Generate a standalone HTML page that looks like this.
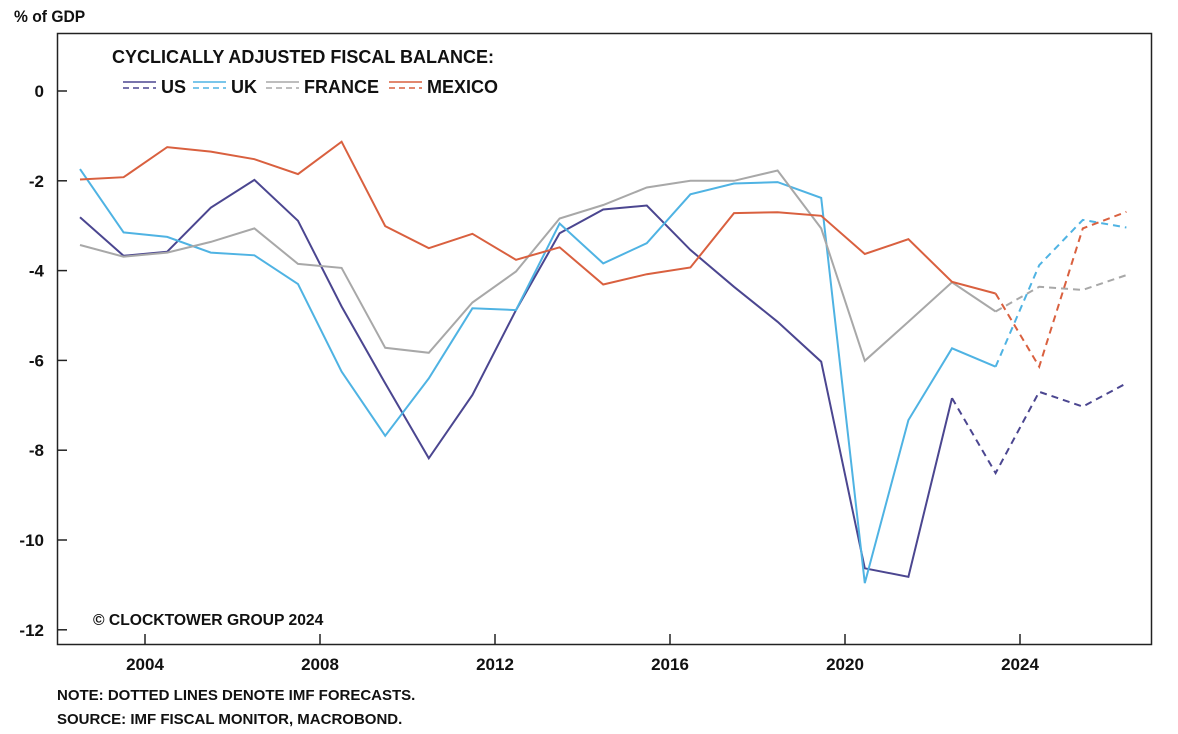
<!DOCTYPE html>
<html><head><meta charset="utf-8"><style>
html,body{margin:0;padding:0;background:#fff;}
svg{display:block;font-family:"Liberation Sans",sans-serif;font-weight:bold;}
</style></head><body>
<svg id="chart" width="1178" height="734" viewBox="0 0 1178 734">
<text x="14" y="22" font-size="17" fill="#111" transform="translate(14 0) scale(0.92 1) translate(-14 0)">% of GDP</text>
<rect x="57.5" y="33.5" width="1094" height="611" fill="none" stroke="#222" stroke-width="1.5"/>
<g id="yaxis"></g>
<g id="xaxis"></g>
<g id="series"></g>
<g>
<text x="112" y="63" font-size="18" fill="#111">CYCLICALLY ADJUSTED FISCAL BALANCE:</text>
<g id="legend-items"></g>
</g>
<text x="93" y="625" font-size="16" fill="#111" transform="translate(93 0) scale(0.98 1) translate(-93 0)">© CLOCKTOWER GROUP 2024</text>
<text x="57" y="700" font-size="15" fill="#111">NOTE: DOTTED LINES DENOTE IMF FORECASTS.</text>
<text x="57" y="724" font-size="15" fill="#111">SOURCE:  IMF FISCAL MONITOR, MACROBOND.</text>
</svg>
<script>
const yTicks = [0, -2, -4, -6, -8, -10, -12];
const xTickYears = [2004, 2008, 2012, 2016, 2020, 2024];
const seriesNames = ["US", "UK", "FRANCE", "MEXICO"];
const seriesColors = ["#4b4690", "#4fb3e3", "#a8a8a8", "#d9603f"];
const usValues = [-2.81,-3.67,-3.58,-2.60,-1.98,-2.89,-4.80,-6.51,-8.18,-6.77,-4.88,-3.17,-2.64,-2.55,-3.54,-4.36,-5.14,-6.03,-10.63,-10.82,-6.84,-8.51,-6.70,-7.03,-6.51];
const ukValues = [-1.74,-3.15,-3.25,-3.60,-3.66,-4.30,-6.25,-7.68,-6.40,-4.84,-4.88,-2.95,-3.84,-3.39,-2.30,-2.06,-2.03,-2.38,-10.96,-7.33,-5.73,-6.14,-3.88,-2.87,-3.04];
const franceValues = [-3.43,-3.69,-3.60,-3.36,-3.06,-3.85,-3.94,-5.72,-5.83,-4.71,-4.02,-2.84,-2.54,-2.15,-2.00,-2.00,-1.77,-3.06,-6.01,-5.14,-4.26,-4.91,-4.36,-4.43,-4.10];
const mexicoValues = [-1.97,-1.92,-1.25,-1.35,-1.52,-1.85,-1.13,-3.01,-3.50,-3.18,-3.76,-3.48,-4.31,-4.08,-3.93,-2.72,-2.70,-2.78,-3.63,-3.30,-4.25,-4.51,-6.14,-3.06,-2.69];
const lastActualIndex = [20, 21, 21, 21];

const NS = "http://www.w3.org/2000/svg";
function yScale(v){ return 91 + (0 - v) * 44.9; }
function xIndex(i){ return 80 + i * 43.6; }
function xYear(y){ return 145 + (y - 2004) * 43.75; }
function mk(tag, attrs, parent){ const e=document.createElementNS(NS,tag); for(const k in attrs) e.setAttribute(k,attrs[k]); parent.appendChild(e); return e; }

const yaxis=document.getElementById('yaxis');
yTicks.forEach(v=>{
  const y=yScale(v);
  const t=mk('line',{x1:57,x2:67,y1:y,y2:y,stroke:'#222','stroke-width':1.5},yaxis);
  
  
  const l=mk('text',{x:44,y:y+6,'font-size':17,'text-anchor':'end',fill:'#111'},yaxis);
  l.textContent=String(v);
  
  
});
const xaxis=document.getElementById('xaxis');
xTickYears.forEach(yr=>{
  const x=xYear(yr);
  const t=mk('line',{x1:x,x2:x,y1:644,y2:634,stroke:'#222','stroke-width':1.5},xaxis);
  
  
  const l=mk('text',{x:x,y:670,'font-size':17,'text-anchor':'middle',fill:'#111'},xaxis);
  l.textContent=String(yr);
  
  
});

const allValues=[usValues,ukValues,franceValues,mexicoValues];
const sg=document.getElementById('series');
allValues.forEach((vals,s)=>{
  const la=lastActualIndex[s];
  const pts=(a,b)=>vals.slice(a,b+1).map((v,k)=>xIndex(a+k).toFixed(1)+','+yScale(v).toFixed(1)).join(' ');
  const solid=mk('polyline',{points:pts(0,la),fill:'none',stroke:seriesColors[s],'stroke-width':2,'stroke-linejoin':'miter'},sg);
  
  
  const dash=mk('polyline',{points:pts(la,vals.length-1),fill:'none',stroke:seriesColors[s],'stroke-width':2,'stroke-dasharray':'7,5'},sg);
  
  
});

const lg=document.getElementById('legend-items');
const legendX=[123,193,266,389];
seriesNames.forEach((n,s)=>{
  const g=mk('g',{},lg);
  
  
  const x=legendX[s];
  mk('line',{x1:x,x2:x+33,y1:82,y2:82,stroke:seriesColors[s],'stroke-width':1.5},g);
  mk('line',{x1:x,x2:x+33,y1:88,y2:88,stroke:seriesColors[s],'stroke-width':1.5,'stroke-dasharray':'6,4'},g);
  const t=mk('text',{x:x+38,y:93,'font-size':18,fill:'#111'},g);
  t.textContent=n;
});
</script>
</body></html>
